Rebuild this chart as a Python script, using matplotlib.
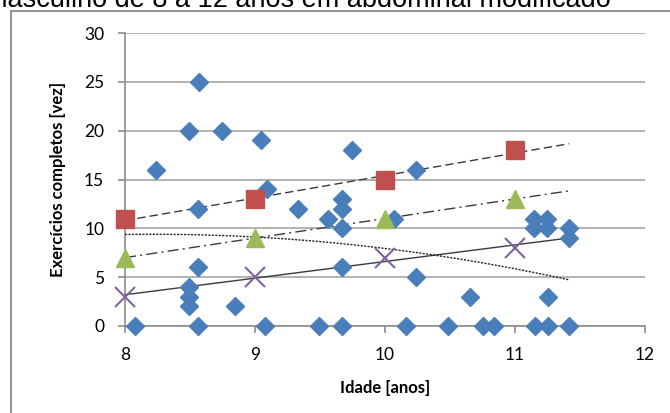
import numpy as np
import matplotlib.pyplot as plt
from matplotlib.patches import Rectangle

plt.rcParams['font.family'] = ['Lato', 'DejaVu Sans']

# individual results (blue diamonds)
idade = [8.08, 8.56, 9.08, 9.49, 9.67, 10.16, 10.49, 10.76, 10.84, 11.16, 11.26, 11.42,
         8.49, 8.49, 8.49, 8.85, 8.56, 8.24, 8.49, 8.57, 8.75, 9.05, 8.56, 9.09,
         9.33, 9.56, 9.67, 9.67, 9.67, 9.67, 9.75, 10.07, 10.24, 10.24, 10.66, 11.26,
         11.15, 11.25, 11.15, 11.25, 11.42, 11.42]
exercicios = [0, 0, 0, 0, 0, 0, 0, 0, 0, 0, 0, 0,
              2, 3, 4, 2, 6, 16, 20, 25, 20, 19, 12, 14,
              12, 11, 10, 6, 12, 13, 18, 11, 16, 5, 3, 3,
              11, 11, 10, 10, 10, 9]

# reference curves by age
ref_idade = [8, 9, 10, 11]
ref_sup = [11, 13, 15, 18]
ref_med = [7, 9, 11, 13]
ref_inf = [3, 5, 7, 8]

titulo = "masculino de 8 a 12 anos em abdominal modificado"

W, H = 670, 413
fig = plt.figure(figsize=(6.7, 4.13), dpi=100)
ax = fig.add_axes([125 / W, 1 - 326 / H, 519.5 / W, 293 / H])

# outer chart border
fig.patches.append(Rectangle((11 / W, -0.1), 1.2, 1 - 11 / H + 0.1,
                             transform=fig.transFigure, fill=False,
                             edgecolor='#7f7f7f', lw=1.2))
fig.text(-15 / W, 1 - 7 / H, titulo, ha='left', va='baseline',
         fontsize=19.5, family=['Liberation Sans', 'DejaVu Sans'], color='black')

xs = np.linspace(8, 11.42, 100)

# trend lines
for ys, ls in [(ref_sup, (0, (6, 3))), (ref_med, (0, (8, 3, 1.5, 3))), (ref_inf, '-')]:
    p = np.polyfit(ref_idade, ys, 1)
    ax.plot(xs, np.polyval(p, xs), color='#3a3a3a', lw=1.0, ls=ls, zorder=3)
p2 = np.polyfit(idade, exercicios, 2)
ax.plot(xs, np.polyval(p2, xs), color='#222222', lw=1.0, ls=(0, (1.5, 1)), zorder=3)

ax.plot(idade, exercicios, 'D', color='#4a7ebb', ms=9.5, mec='#4a7ebb', zorder=4, clip_on=False)
ax.plot(ref_idade, ref_sup, 's', color='#c0504d', ms=13, mec='#c0504d', zorder=5, clip_on=False)
ax.plot(ref_idade, ref_med, '^', color='#9bbb59', ms=13.5, mec='#9bbb59', zorder=5, clip_on=False)
ax.plot(ref_idade, ref_inf, 'x', color='#8064a2', ms=14, mew=1.5, zorder=5, clip_on=False)

ax.set_xlim(8, 12)
ax.set_ylim(0, 30)
ax.set_xticks([8, 9, 10, 11, 12])
ax.set_yticks(range(0, 31, 5))
ax.yaxis.grid(True, color='#a6a6a6', lw=1.2)
ax.set_axisbelow(True)
for s in ['top', 'right']:
    ax.spines[s].set_visible(False)
for s in ['left', 'bottom']:
    ax.spines[s].set_color('#8c8c8c')
    ax.spines[s].set_linewidth(1.2)
ax.tick_params(colors='#8c8c8c', labelcolor='black', labelsize=12.5, length=5, width=1.2)
ax.tick_params(axis='y', pad=10)
ax.tick_params(axis='x', pad=10)
ax.set_xlabel('Idade [anos]', fontsize=12, fontweight='bold', labelpad=12)
ax.set_ylabel('Exercícios completos [vez]', fontsize=12, fontweight='bold', labelpad=13)

fig.savefig('out.png', dpi=100)
